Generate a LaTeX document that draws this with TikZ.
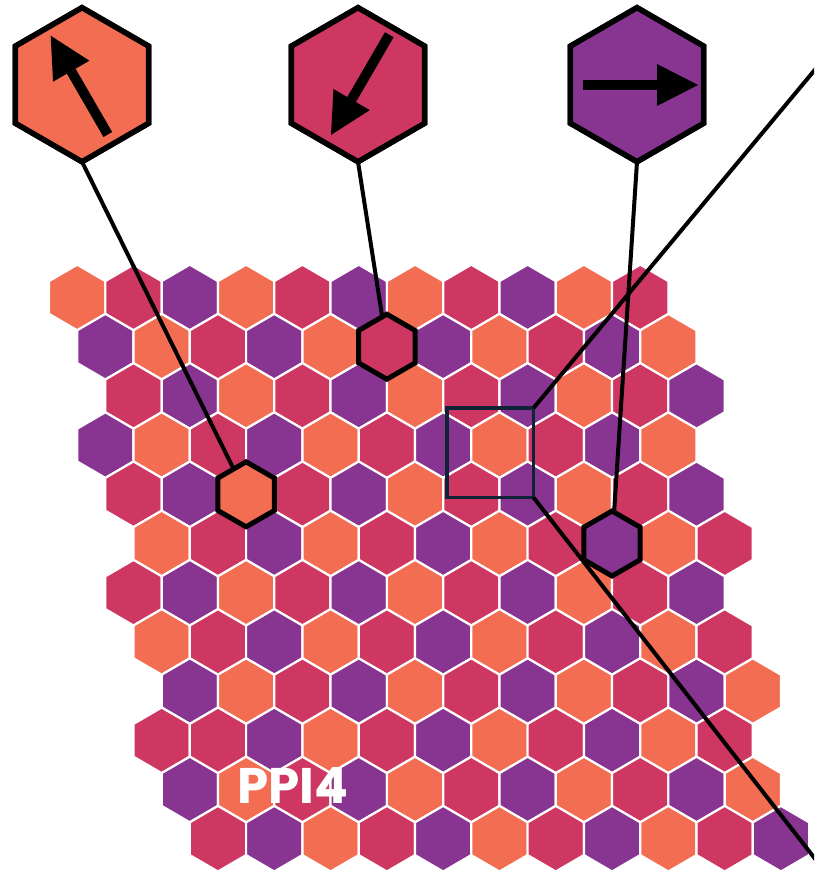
\documentclass[tikz,border=0pt]{standalone}
\usepackage{fontspec}
\newfontfamily\labelfont{Poppins}
\usetikzlibrary{arrows.meta,shapes.geometric}
\definecolor{hexO}{HTML}{F26D52}
\definecolor{hexM}{HTML}{CF3763}
\definecolor{hexP}{HTML}{873591}
\definecolor{boxnavy}{HTML}{0E2436}
\begin{document}
\begin{tikzpicture}[x=1pt,y=-1pt,
  cell/.style={fill=#1, draw=white, line width=2.2pt, line join=miter},
  pick/.style={regular polygon, regular polygon sides=6, shape border rotate=90,
    minimum size=65pt, inner sep=0pt, outer sep=0pt, draw=black, line width=5pt, fill=#1},
  big/.style={regular polygon, regular polygon sides=6, shape border rotate=90,
    minimum size=154pt, inner sep=0pt, outer sep=0pt, draw=black, line width=5.5pt, fill=#1},
  link/.style={draw=black, line width=4pt},
  dirarrow/.style={line width=10pt, -{Triangle[length=41pt,width=42pt,line width=0pt]}},
  zoombox/.style={draw=boxnavy, line width=3.8pt, inner sep=0pt, outer sep=0pt,
    minimum width=86.5pt, minimum height=89.5pt},
  label/.style={text=white, font=\labelfont\bfseries\fontsize{50}{50}\selectfont, anchor=base, inner sep=0pt}
]
\useasboundingbox (0,0) rectangle (814,872);
\clip (0,0) rectangle (814,872);

% hexagonal grid
\foreach \r/\ks in {0/0,1/1,2/2,3/1,4/2,5/3,6/2,7/3,8/4,9/3,10/4,11/5} {
  \foreach \i in {0,...,10} {
    \pgfmathtruncatemacro\hk{\ks+2*\i}
    \pgfmathtruncatemacro\hc{mod(\hk,3)}
    \pgfmathsetmacro\cx{77.2+28.15*\hk}
    \pgfmathsetmacro\cy{297.5+49.2*\r}
    \ifcase\hc\relax \def\hcol{hexO}\or \def\hcol{hexP}\or \def\hcol{hexM}\fi
    \ifnum\r=9 \ifnum\i=0 \def\hcol{hexM}\fi\fi
    \path[cell=\hcol] (\cx,\cy) ++(0,-32.8) -- ++(28.15,16.4) -- ++(0,32.8)
      -- ++(-28.15,16.4) -- ++(-28.15,-16.4) -- ++(0,-32.8) -- cycle;
  }
}

% big legend hexagons
\node[big=hexO] (t1) at (82,84.7) {};
\node[big=hexM] (t2) at (358,84.7) {};
\node[big=hexP] (t3) at (637,84.7) {};

% picked cells
\coordinate (pA) at (386.85,346.7);
\coordinate (pB) at (246.1,494.3);
\coordinate (pC) at (612.05,543.5);

\draw[link] (t1.south) -- (pB);
\draw[link] (t2.south) -- (pA);
\draw[link] (t3.south) -- (pC);

\node[pick=hexM] (hA) at (pA) {};
\node[pick=hexO] (hB) at (pB) {};
\node[pick=hexP] (hC) at (pC) {};

% redraw top hexes above links
\node[big=hexO] at (t1) {};
\node[big=hexM] at (t2) {};
\node[big=hexP] at (t3) {};

% direction arrows
\draw[dirarrow] (107.8,134.5) -- (50.7,35.7);
\draw[dirarrow] (389.3,34.7) -- (331,135);
\draw[dirarrow] (582.5,85) -- (698,85);

% zoom box and callout lines
\node[zoombox] (zoom) at (490.25,452.75) {};
\coordinate (ze1) at (830,51.6);
\coordinate (ze2) at (830,878);
\draw[link] (zoom.north east) -- (ze1);
\draw[link] (zoom.south east) -- (ze2);

% label
\node[label] (lbl) at (293,803) {PPI4};
\end{tikzpicture}
\end{document}
